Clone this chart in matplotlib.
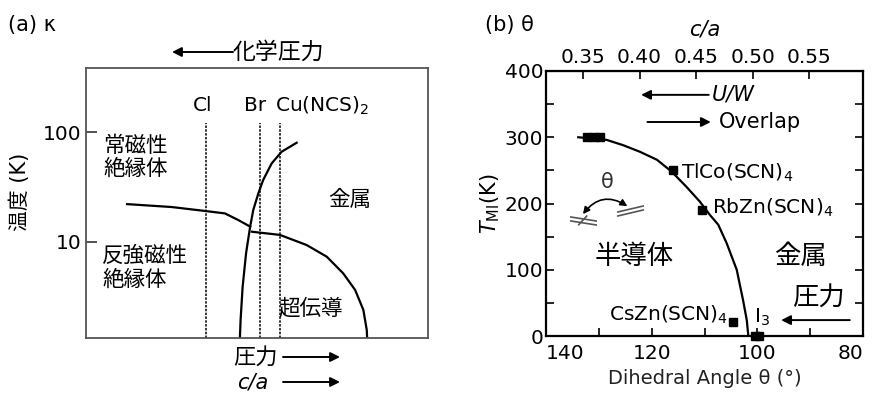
import numpy as np
import matplotlib
matplotlib.use("Agg")
import matplotlib.pyplot as plt
from matplotlib.ticker import MultipleLocator, FixedLocator, NullLocator

plt.rcParams["font.family"] = ["DejaVu Sans", "Noto Sans CJK JP"]
plt.rcParams["mathtext.fontset"] = "dejavusans"
plt.rcParams["axes.unicode_minus"] = False

# ---- (a) kappa phases: x is a schematic pressure axis (0..1), y is T in K
salt_names = ["Cl", "Br", "Cu(NCS)$_2$"]
salt_x = [0.351, 0.509, 0.567]

mott_x = [0.450, 0.452, 0.458, 0.468, 0.480, 0.489, 0.504, 0.518,
          0.543, 0.572, 0.616]
mott_T = [1.34, 1.95, 3.92, 7.89, 13.8, 19.5, 27.7, 36.6, 51.9, 66.2, 79.9]

afm_x = [0.120, 0.250, 0.351, 0.406, 0.445, 0.480]
afm_T = [22.1, 20.8, 19.1, 18.2, 15.85, 13.8]

sc_x = [0.485, 0.567, 0.645, 0.704, 0.752, 0.787, 0.811, 0.821, 0.822]
sc_T = [12.4, 11.6, 9.39, 7.35, 5.19, 3.66, 2.41, 1.58, 1.34]

# ---- (b) theta phases
mi_theta = [133.9, 128.5, 125.4, 122.2, 119.0, 116.2, 113.4, 110.9,
            109.0, 107.4, 105.8, 103.9, 102.7, 102.0, 101.7]
mi_T = [300, 296, 288, 278, 266, 248, 225, 203, 183, 168, 140, 100,
        54, 24, 0]

salts_theta = [132.3, 131.0, 129.7, 116.0, 110.5, 104.6, 100.5, 99.6]
salts_T = [300, 300, 300, 250, 190, 21, 0, 0]

ca_ticks = [0.35, 0.40, 0.45, 0.50, 0.55]


def theta_to_ca(t):
    return 0.35 + (133.0 - np.asarray(t, dtype=float)) * 0.2 / 42.8


def ca_to_theta(c):
    return 133.0 - (np.asarray(c, dtype=float) - 0.35) * 42.8 / 0.2


W, H = 874, 394
fig = plt.figure(figsize=(W / 100, H / 100), dpi=100)


def fpos(x, y):
    return x / W, 1 - y / H


def arrow(ax, p0, p1, coords, lw=1.4):
    ax.annotate(
        "",
        xy=p1,
        xytext=p0,
        xycoords=coords,
        textcoords=coords,
        annotation_clip=False,
        arrowprops=dict(arrowstyle="-|>", color="black", lw=lw,
                        mutation_scale=14, shrinkA=0, shrinkB=0),
    )


# ================= panel (a)
ax1 = fig.add_axes([86 / W, 1 - 338 / H, 342 / W, 270 / H])

ax1.set_yscale("log")
ax1.set_xlim(0, 1)
ax1.set_ylim(1.34, 382)

ax1.xaxis.set_major_locator(NullLocator())
ax1.yaxis.set_major_locator(FixedLocator([10, 100]))
ax1.yaxis.set_minor_locator(NullLocator())
ax1.set_yticklabels(["10", "100"])
ax1.tick_params(axis="y", direction="in", length=8, width=1.2,
                labelsize=14.5, pad=3, color="#333333")

for s in ax1.spines.values():
    s.set_linewidth(1.3)
    s.set_color("#555555")

for x in salt_x:
    ax1.vlines(x, 1.34, 121, color="black", lw=1.1,
               linestyles=(0, (1.6, 0.9)))

ax1.plot(mott_x, mott_T, color="black", lw=1.6)
ax1.plot(afm_x, afm_T, color="black", lw=1.6)
ax1.plot(sc_x, sc_T, color="black", lw=1.6)

ax1.text(0.342, 0.86, salt_names[0], transform=ax1.transAxes,
         fontsize=14.5, ha="center", va="center")
ax1.text(0.494, 0.86, salt_names[1], transform=ax1.transAxes,
         fontsize=14.5, ha="center", va="center")
ax1.text(0.553, 0.86, salt_names[2], transform=ax1.transAxes,
         fontsize=14.5, ha="left", va="center")

ax1.text(0.05, 0.67, "常磁性\n絶縁体", transform=ax1.transAxes,
         fontsize=15.5, ha="left", va="center", linespacing=1.2)
ax1.text(0.772, 0.511, "金属", transform=ax1.transAxes,
         fontsize=15.5, ha="center", va="center")
ax1.text(0.047, 0.26, "反強磁性\n絶縁体", transform=ax1.transAxes,
         fontsize=15.5, ha="left", va="center", linespacing=1.2)
ax1.text(0.658, 0.111, "超伝導", transform=ax1.transAxes,
         fontsize=15.5, ha="center", va="center")

fig.text(*fpos(20, 192), "温度 (K)", rotation=90, fontsize=15,
         ha="center", va="center")
fig.text(*fpos(8, 25), "(a) κ", fontsize=15, ha="left", va="center")

fig.text(*fpos(233, 52), "化学圧力", fontsize=16.5, ha="left", va="center")
arrow(ax1, fpos(233, 52), fpos(172, 52), "figure fraction")

fig.text(*fpos(233, 357), "圧力", fontsize=16, ha="left", va="center")
fig.text(*fpos(237, 382), "c/a", fontsize=15, style="italic",
         ha="left", va="center")
arrow(ax1, fpos(283, 357), fpos(340, 357), "figure fraction")
arrow(ax1, fpos(283, 382), fpos(340, 382), "figure fraction")

# ================= panel (b)
ax2 = fig.add_axes([546 / W, 1 - 336 / H, 317 / W, 265 / H])

ax2.set_xlim(140, 80)
ax2.set_ylim(0, 400)

ax2.xaxis.set_major_locator(FixedLocator([140, 120, 100, 80]))
ax2.xaxis.set_minor_locator(MultipleLocator(10))
ax2.yaxis.set_major_locator(MultipleLocator(100))
ax2.yaxis.set_minor_locator(MultipleLocator(50))
ax2.tick_params(which="both", direction="in", width=1.2, top=False,
                right=True, labelsize=14.5, length=6)
ax2.tick_params(axis="x", pad=6)
ax2.tick_params(axis="y", pad=2)

# keep the end labels inside the frame width
xticks = ax2.xaxis.get_major_ticks()
xticks[0].label1.set_horizontalalignment("left")
xticks[-1].label1.set_horizontalalignment("right")

for s in ax2.spines.values():
    s.set_linewidth(1.6)

sec = ax2.secondary_xaxis("top", functions=(theta_to_ca, ca_to_theta))
sec.xaxis.set_major_locator(FixedLocator(ca_ticks))
sec.xaxis.set_minor_locator(NullLocator())
sec.set_xticklabels([f"{c:.2f}" for c in ca_ticks])
sec.tick_params(direction="in", length=6, width=1.2, labelsize=14.5, pad=3)
sec.set_xlabel("c/a", fontsize=15, style="italic", labelpad=9)

ax2.plot(mi_theta, mi_T, color="black", lw=1.6)
ax2.plot(salts_theta, salts_T, "s", color="black", markersize=6,
         clip_on=False)

ax2.set_xlabel("Dihedral Angle θ (°)", fontsize=14, labelpad=4,
               color="#222222")
ax2.set_ylabel(r"$T_{\mathrm{MI}}$(K)", fontsize=15, labelpad=2)

ax2.text(114.4, 246, "TlCo(SCN)$_4$", fontsize=14.5, ha="left", va="center")
ax2.text(108.6, 193, "RbZn(SCN)$_4$", fontsize=14.5, ha="left", va="center")
ax2.text(105.6, 32, "CsZn(SCN)$_4$", fontsize=14.5, ha="right", va="center")
ax2.text(100.6, 28, "I$_3$", fontsize=14.5, ha="left", va="center")

ax2.text(123.3, 119, "半導体", fontsize=19, ha="center", va="center")
ax2.text(91.9, 119, "金属", fontsize=19, ha="center", va="center")
ax2.text(88.5, 56, "圧力", fontsize=19, ha="center", va="center")

# pressure / U/W / overlap arrows
arrow(ax2, (82.5, 24), (95.5, 24), "data")
arrow(ax2, (109.2, 364), (122.0, 364), "data")
ax2.text(108.7, 364, "U/W", fontsize=15, style="italic",
         ha="left", va="center")
arrow(ax2, (120.8, 323), (108.8, 323), "data")
ax2.text(107.2, 323, "Overlap", fontsize=15, ha="left", va="center")

# dihedral angle sketch: two tilted planes and a bent double arrow
ax2.text(128.5, 232, "θ", fontsize=15, ha="center", va="center",
         color="#333333")
for dy in (-3, 3):
    ax2.plot([135.3, 130.5], [176.6 + dy, 170.6 + dy], color="#555555",
             lw=1.2)
    ax2.plot([126.4, 121.6], [184.2 + dy, 193.2 + dy], color="#555555",
             lw=1.2)
ax2.plot([133.8, 132.3], [168, 181], color="#555555", lw=1.2)
ax2.annotate(
    "",
    xy=(124.6, 196),
    xytext=(133.0, 184),
    arrowprops=dict(arrowstyle="<|-|>", color="black", lw=1.2,
                    mutation_scale=10,
                    connectionstyle="arc3,rad=-0.45",
                    shrinkA=0, shrinkB=0),
)

fig.text(*fpos(485, 25), "(b) θ", fontsize=15, ha="left", va="center")

fig.savefig("out.png", dpi=100)
